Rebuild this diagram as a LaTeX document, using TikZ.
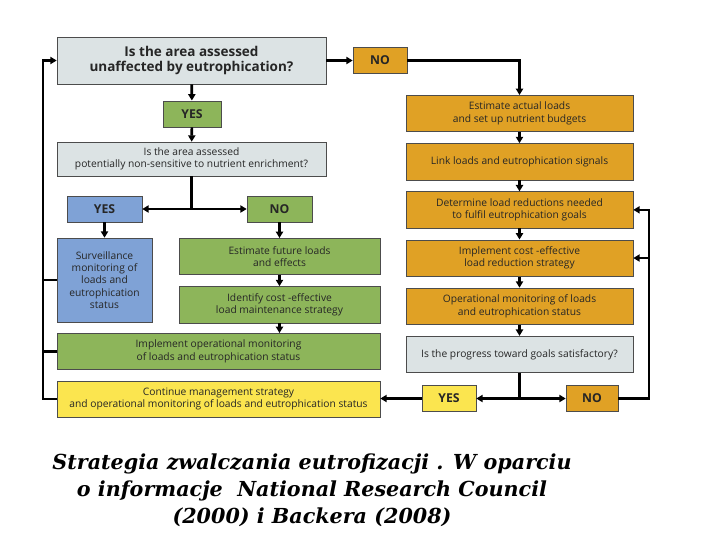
\documentclass[tikz,border=0pt]{standalone}
\usepackage{fontspec}
\newfontfamily\boxfont{Open Sans}
\newfontfamily\capfont{DejaVu Serif}
\usetikzlibrary{positioning, arrows.meta}
\definecolor{qgray}{HTML}{DCE3E4}
\definecolor{orng}{HTML}{E0A125}
\definecolor{grn}{HTML}{8DB55A}
\definecolor{blu}{HTML}{7FA2D6}
\definecolor{ylw}{HTML}{FBE54F}

\begin{document}
\begin{tikzpicture}[
    x=0.025cm, y=-0.025cm,
    node distance=0.28cm and 0.5cm,
    box/.style={
      rectangle, draw=black!70, line width=0.4pt, inner sep=1pt,
      minimum height=0.91cm, align=center, text=black!85,
      font=\boxfont\fontsize{7.3}{8.8}\selectfont
    },
    lbl/.style={box, minimum height=0.66cm,
      font=\boxfont\bfseries\fontsize{8.7}{10}\selectfont},
    arr/.style={-{Triangle[length=1.6mm, width=1.8mm]}, line width=1.9pt},
    wire/.style={line width=1.9pt}
  ]
    \useasboundingbox (0,0) rectangle (720,540);
    \fill[white] (0,0) rectangle (720,540);

    \node[box, fill=qgray, minimum width=6.725cm, minimum height=1.175cm,
      font=\boxfont\bfseries\fontsize{9.6}{11.2}\selectfont] (q1) at (191.5,60.5)
      {Is the area assessed\\unaffected by eutrophication?};
    \node[lbl, fill=orng, minimum width=1.35cm] (notop) at (380,60.5) {NO};
    \node[lbl, fill=grn, minimum width=1.45cm] (yesa) at (192,114) {YES};
    \node[box, fill=qgray, minimum width=6.725cm, minimum height=0.85cm] (q2) at (191.5,159)
      {Is the area assessed\\potentially non-sensitive to nutrient enrichment?};
    \node[lbl, fill=blu, minimum width=1.875cm] (yesb) at (104.5,209) {YES};
    \node[lbl, fill=grn, minimum width=1.625cm] (nob) at (279.5,209) {NO};
    \node[box, fill=blu, minimum width=2.375cm, minimum height=2.1cm] (surv) at (104.5,280)
      {Surveillance\\monitoring of\\loads and\\eutrophication\\status};
    \node[box, fill=grn, minimum width=5.025cm] (estf) at (279.5,256.5)
      {Estimate future loads\\and effects};
    \node[box, fill=grn, minimum width=5.025cm, below=of estf] (ident)
      {Identify cost -effective\\load maintenance strategy};
    \node[box, fill=grn, minimum width=8.075cm] (implop) at (218.5,351.5)
      {Implement operational monitoring\\of loads and eutrophication status};
    \node[box, fill=ylw, minimum width=8.075cm] (cont) at (218.5,399)
      {Continue management strategy\\and operational monitoring of loads and eutrophication status};

    \node[box, fill=orng, minimum width=5.675cm] (esta) at (519.5,113.5)
      {Estimate actual loads\\and set up nutrient budgets};
    \node[box, fill=orng, minimum width=5.675cm, below=of esta] (linkls)
      {Link loads and eutrophication signals};
    \node[box, fill=orng, minimum width=5.675cm, below=of linkls] (determ)
      {Determine load reductions needed\\to fulfil eutrophication goals};
    \node[box, fill=orng, minimum width=5.675cm, below=of determ] (implr)
      {Implement cost -effective\\load reduction strategy};
    \node[box, fill=orng, minimum width=5.675cm, below=of implr] (opmon)
      {Operational monitoring of loads\\and eutrophication status};
    \node[box, fill=qgray, minimum width=5.675cm, below=of opmon] (prog)
      {Is the progress toward goals satisfactory?};
    \node[lbl, fill=ylw, minimum width=1.35cm] (yesc) at (449,398.5) {YES};
    \node[lbl, fill=orng, minimum width=1.3cm] (noc) at (592,398.5) {NO};

    \coordinate (lft) at (43,0);
    \coordinate (rgt) at (649,0);
    \coordinate (split1) at (q2.south |- yesb.east);
    \coordinate (split2) at (prog.south |- yesc.east);

    \draw[arr] (q1) -- (notop);
    \draw[arr] (notop.east) -| (esta.north);
    \draw[arr] (q1) -- (yesa);
    \draw[arr] (yesa) -- (q2);
    \draw[wire] (q2.south) -- (split1);
    \draw[arr] (split1) -- (yesb);
    \draw[arr] (split1) -- (nob);
    \draw[arr] (yesb.south) -- (surv.north -| yesb.south);
    \draw[arr] (nob) -- (estf);
    \draw[arr] (estf) -- (ident);
    \draw[arr] (ident.south) -- (ident.south |- implop.north);

    \draw[arr] (esta) -- (linkls);
    \draw[arr] (linkls) -- (determ);
    \draw[arr] (determ) -- (implr);
    \draw[arr] (implr) -- (opmon);
    \draw[arr] (opmon) -- (prog);
    \draw[wire] (prog.south) -- (split2);
    \draw[arr] (split2) -- (yesc);
    \draw[arr] (split2) -- (noc);
    \draw[arr] (yesc) -- (cont.east |- yesc.west);
    \draw[arr] (noc.east) -- (noc.east -| rgt) |- (determ.east);
    \draw[arr] (implr.east -| rgt) -- (implr.east);

    \draw[arr] (cont.west) -- (cont.west -| lft) |- (q1.west);
    \draw[wire] (surv.west) -- (surv.west -| lft);
    \draw[wire] (implop.west) -- (implop.west -| lft);

    \node[align=center, text=black,
      font=\capfont\bfseries\itshape\fontsize{14.7}{19.2}\selectfont] (cap) at (312,490)
      {Strategia zwalczania eutrofizacji . W oparciu\\
       o informacje~ National Research Council\\
       (2000) i Backera (2008)};
  \end{tikzpicture}
\end{document}
